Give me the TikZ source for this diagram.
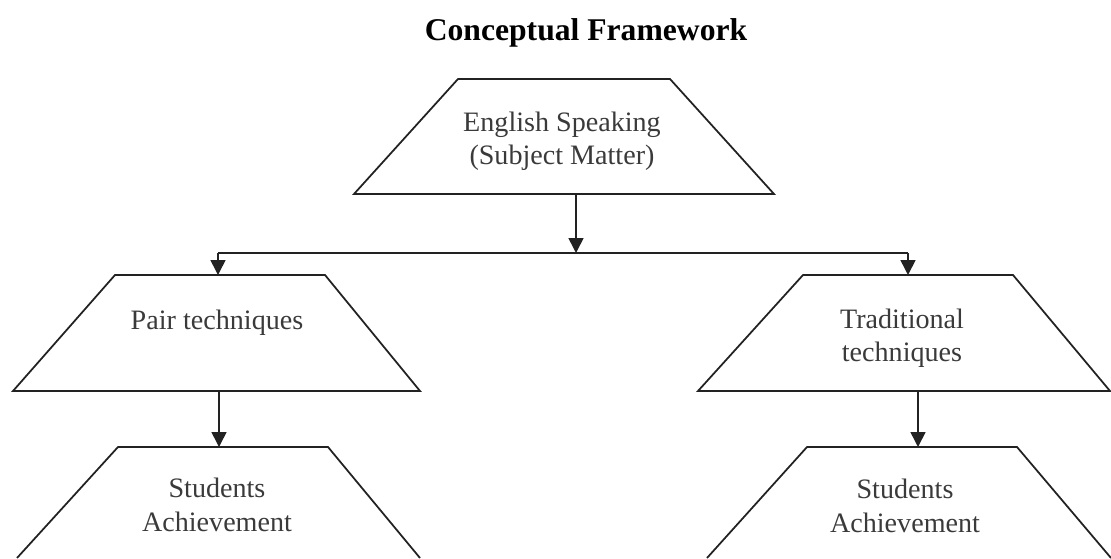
\documentclass[tikz,border=0pt]{standalone}
\usepackage{fontspec}
\setmainfont{Liberation Serif}
\usepackage{xcolor}
\usetikzlibrary{arrows.meta}
\definecolor{ink}{HTML}{222222}
\definecolor{txt}{HTML}{3A3A3A}
\tikzset{
  trap/.style={draw=ink, line width=1pt, line join=miter},
  link/.style={draw=ink, line width=0.9pt},
  arr/.style={link, -{Triangle[length=8.5pt,width=8.5pt]}},
  lab/.style={text=txt, align=center, inner sep=0pt, font=\fontsize{16}{19}\selectfont},
  ttl/.style={text=black, inner sep=0pt, font=\fontsize{18}{21}\selectfont\bfseries},
}
\begin{document}
\begin{tikzpicture}[x=0.02cm, y=-0.02cm]
  \useasboundingbox (0,0) rectangle (1111,558);

  \node[ttl, anchor=base] (title) at (586,40) {Conceptual Framework};

  % subject matter
  \draw[trap] (354,194) -- (458,79) -- (670,79) -- (774,194) -- cycle;
  \node[lab] (subj) at (562,141) {English Speaking\\(Subject Matter)};
  \coordinate (subjB) at (576,194);

  % split line
  \coordinate (splitM) at (576,253);
  \coordinate (splitL) at (218,253);
  \coordinate (splitR) at (908,253);
  \draw[link] (splitL) -- (splitR);
  \draw[arr] (subjB) -- (splitM);

  % two techniques
  \draw[trap] (13,391) -- (115,275) -- (325,275) -- (420,391) -- cycle;
  \draw[trap] (698,391) -- (803,275) -- (1013,275) -- (1110,391) -- cycle;
  \node[lab] (pair) at (217,323) {Pair techniques};
  \node[lab] (trad) at (902,338) {Traditional\\techniques};
  \coordinate (pairT) at (218,275);
  \coordinate (tradT) at (908,275);
  \draw[arr] (splitL) -- (pairT);
  \draw[arr] (splitR) -- (tradT);

  % achievement (cut by page edge)
  \draw[trap] (17,558) -- (118,447) -- (328,447) -- (420,558);
  \draw[trap] (707,558) -- (807,447) -- (1017,447) -- (1111,558);
  \node[lab] (achL) at (217,505) {Students\\Achievement};
  \node[lab] (achR) at (905,506) {Students\\Achievement};
  \coordinate (pairB) at (219,391);
  \coordinate (tradB) at (918,391);
  \coordinate (achLT) at (219,447);
  \coordinate (achRT) at (918,447);
  \draw[arr] (pairB) -- (achLT);
  \draw[arr] (tradB) -- (achRT);
\end{tikzpicture}
\end{document}
